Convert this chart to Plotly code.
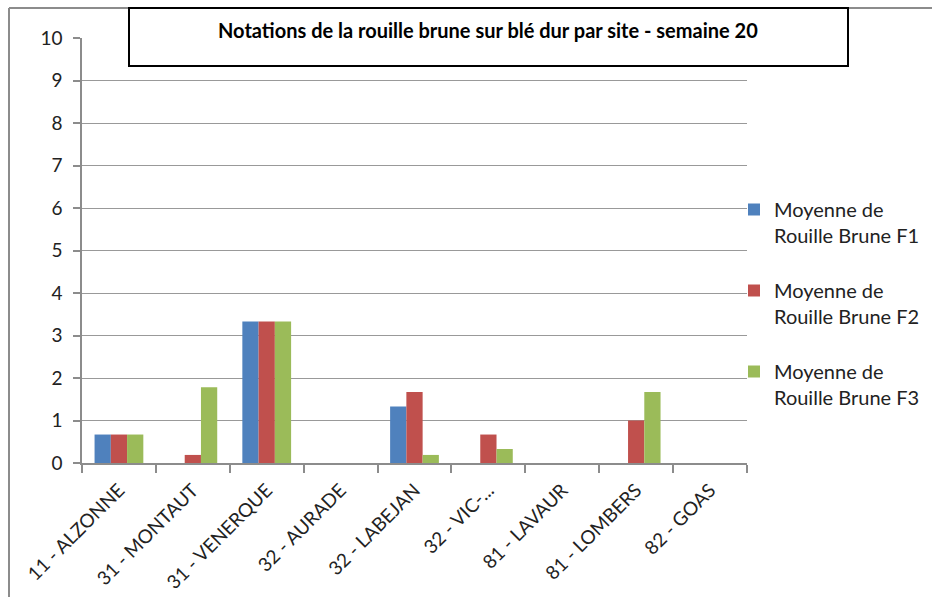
import plotly.graph_objects as go

categories = ["11 - ALZONNE", "31 - MONTAUT", "31 - VENERQUE", "32 - AURADE", "32 - LABEJAN",
              "32 - VIC-...", "81 - LAVAUR", "81 - LOMBERS", "82 - GOAS"]
f1 = [0.67, 0, 3.33, 0, 1.33, 0, 0, 0, 0]
f2 = [0.67, 0.19, 3.33, 0, 1.67, 0.67, 0, 1.0, 0]
f3 = [0.67, 1.78, 3.33, 0, 0.19, 0.33, 0, 1.67, 0]
series_names = ["Moyenne de<br>Rouille Brune F1", "Moyenne de<br>Rouille Brune F2", "Moyenne de<br>Rouille Brune F3"]
colors = ["#4F81BD", "#C0504D", "#9BBB59"]
title = "Notations de la rouille brune sur blé dur par site - semaine 20"

W, H = 932, 597
L, R, T, B = 82, 747, 38, 463

def px(x):
    return (x - L) / (R - L)

def py(y):
    return (B - y) / (B - T)

fig = go.Figure()
for i, (vals, name, c) in enumerate(zip([f1, f2, f3], series_names, colors)):
    fig.add_trace(go.Bar(x=categories, y=vals, name=name, marker_color=c,
                         marker_line_width=0, legendgroup=f"g{i}"))

font = "Lato, Carlito, Calibri, sans-serif"
fig.update_layout(
    width=W, height=H,
    margin=dict(l=L, r=W - R, t=T, b=H - B, autoexpand=False),
    paper_bgcolor="white", plot_bgcolor="white",
    barmode="group", bargap=0.34, bargroupgap=0,
    font=dict(family=font, size=17, color="#222"),
    showlegend=True,
    legend=dict(x=px(734), y=py(190), xanchor="left", yanchor="top",
                valign="top", tracegroupgap=26, font=dict(size=20, color="#222"),
                itemwidth=30, bgcolor="rgba(0,0,0,0)"),
    xaxis=dict(showline=True, linecolor="#8c8c8c", linewidth=1.5, ticks="outside",
               tickson="boundaries", ticklen=8, tickcolor="#8c8c8c", tickwidth=1.5,
               tickangle=-45, tickfont=dict(size=19, color="#222"), showgrid=False,
               ticklabelstandoff=7, range=[-0.5, 8.5]),
    yaxis=dict(range=[0, 10], dtick=1, showline=True, linecolor="#8c8c8c", linewidth=1.5,
               ticks="outside", ticklen=7, tickcolor="#8c8c8c", tickwidth=1.5,
               showgrid=True, gridcolor="#999999", gridwidth=1.4, zeroline=False,
               ticklabelstandoff=7, tickfont=dict(size=19, color="#222")),
    shapes=[
        dict(type="line", xref="paper", yref="paper", x0=px(9), x1=px(9), y0=py(8), y1=py(620),
             line=dict(color="#8c8c8c", width=2), layer="above"),
        dict(type="line", xref="paper", yref="paper", x0=px(9), x1=px(960), y0=py(8), y1=py(8),
             line=dict(color="#8c8c8c", width=2), layer="above"),
        dict(type="rect", xref="paper", yref="paper", x0=px(129), x1=px(848), y0=py(66), y1=py(8),
             line=dict(color="black", width=2), fillcolor="white", layer="above"),
    ],
    annotations=[
        dict(text="<b>" + title + "</b>", xref="paper", yref="paper", x=px(488), y=py(30),
             xanchor="center", yanchor="middle", showarrow=False,
             font=dict(size=20, color="black", family=font)),
    ],
)

fig.write_html("out.html", config={"displayModeBar": False},
               post_script="document.body.style.margin='0px';document.body.style.overflow='hidden';")
